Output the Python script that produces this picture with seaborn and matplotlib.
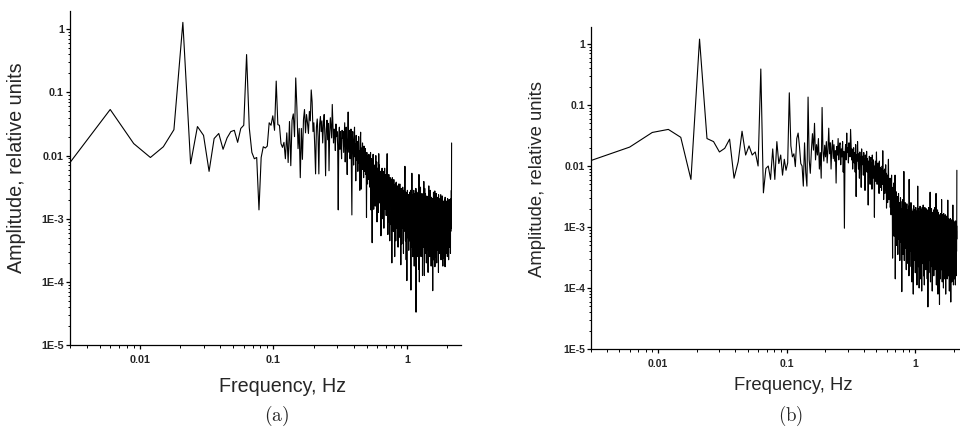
import numpy as np
import pandas as pd
import matplotlib
matplotlib.use("Agg")
import matplotlib.pyplot as plt
import seaborn as sns
from matplotlib.ticker import LogLocator, NullFormatter

# ---------------- data (log10 of amplitude, one value per FFT bin) ----------------
FREQ_STEP_HZ = 0.003

amp_a_log10 = [
    -2.11, -1.27, -1.81, -2.03, -1.86, -1.59, 0.11, -2.13, -1.54, -1.68,
    -2.25, -1.73, -1.65, -1.90, -1.72, -1.62, -1.60, -1.79, -1.57, -1.52,
    -0.40, -1.56, -1.95, -2.05, -2.03, -2.86, -2.03, -1.86, -1.88, -1.85,
    -1.48, -1.52, -1.37, -1.60, -0.82, -1.51, -1.52, -1.81, -1.87, -1.79,
    -2.05, -1.64, -2.11, -1.46, -2.16, -1.44, -1.34, -1.70, -0.77, -1.24,
    -1.89, -1.57, -2.35, -1.57, -2.06, -1.43, -1.27, -1.64, -1.35, -1.48,
    -1.65, -1.30, -1.45, -0.96, -1.15, -1.62, -1.48, -1.85, -2.29, -1.55,
    -1.42, -1.70, -2.29, -1.50, -1.38, -1.62, -1.45, -1.80, -1.52, -1.35,
    -1.68, -2.32, -1.58, -1.44, -1.75, -1.49, -2.24, -1.62, -1.40, -1.55,
    -1.72, -1.19, -1.48, -1.80, -1.58, -1.66, -1.92, -1.50, -1.70, -1.62,
    -1.85, -2.86, -1.68, -1.55, -1.90, -1.62, -1.78, -2.05, -1.60, -1.72,
    -1.62, -1.95, -1.70, -1.48, -2.10, -1.78, -1.55, -1.88, -2.30, -1.66,
    -1.31, -1.72, -1.95, -1.60, -2.05, -1.84, -1.58, -2.20, -2.94, -1.70,
    -1.62, -1.90, -2.15, -1.75, -1.55, -2.02, -1.82, -2.40, -1.68, -1.96,
    -2.08, -1.78, -2.25, -1.85, -1.70, -2.12, -1.92, -2.55, -1.80, -1.63,
    -2.10, -2.53, -1.88, -2.05, -1.80, -2.22, -1.95, -2.35, -1.85, -2.15,
    -2.25, -2.02, -1.89, -2.30, -2.10, -2.98, -1.95, -2.18, -2.45, -2.00,
    -2.12, -2.38, -1.98, -2.25, -2.05, -2.50, -2.15, -1.95, -2.86, -2.20,
    -2.05, -2.40, -3.38, -2.10, -2.60, -1.98, -2.35, -2.85, -2.15, -2.50,
    -2.55, -2.15, -2.80, -2.25, -2.00, -2.65, -2.35, -2.10, -3.05, -2.40,
    -2.20, -2.60, -2.35, -2.90, -1.97, -2.50, -2.15, -2.75, -2.40, -2.25,
    -2.65, -2.25, -3.27, -2.35, -2.55, -2.90, -2.20, -2.45, -3.00, -2.30,
    -2.25, -2.75, -2.40, -3.15, -2.30, -2.60, -2.20, -2.85, -2.50, -2.35,
    -2.70, -2.30, -2.95, -2.45, -2.60, -2.25, -1.97, -2.80, -2.40, -3.25,
    -2.35, -2.80, -2.50, -2.30, -3.05, -2.65, -2.40, -3.35, -2.55, -2.35,
    -2.80, -2.45, -2.70, -2.38, -3.10, -2.55, -3.70, -2.65, -2.35, -2.95,
    -2.45, -2.90, -2.50, -3.20, -2.60, -2.38, -2.95, -2.55, -2.80, -3.60,
    -2.55, -3.00, -2.45, -2.75, -3.35, -2.60, -2.42, -3.10, -2.58, -2.88,
    -3.15, -2.55, -2.85, -2.48, -2.72, -3.45, -2.60, -2.95, -2.45, -2.80,
    -2.60, -3.05, -2.55, -2.85, -2.45, -3.30, -2.70, -3.00, -2.62, -3.73,
    -2.65, -3.10, -2.52, -2.90, -3.40, -2.70, -2.55, -3.15, -2.78, -2.50,
    -3.00, -2.62, -2.95, -3.55, -2.72, -2.55, -3.20, -2.80, -2.60, -3.05,
    -2.70, -2.17, -3.10, -2.80, -3.35, -2.65, -2.98, -2.58, -3.65, -2.85,
    -2.72, -3.10, -3.98, -2.68, -2.95, -2.55, -3.30, -2.80, -3.05, -2.62,
    -3.20, -2.70, -2.95, -3.50, -2.62, -3.05, -2.78, -3.35, -2.58, -2.92,
    -2.80, -3.20, -2.65, -3.00, -2.55, -3.40, -4.13, -2.72, -3.15, -2.60,
    -2.90, -3.25, -2.28, -2.95, -3.45, -2.72, -3.05, -2.62, -3.60, -2.82,
    -3.10, -2.68, -3.30, -2.90, -2.55, -3.15, -2.78, -3.75, -2.70, -3.00,
    -2.75, -3.25, -2.60, -3.05, -2.82, -3.50, -2.68, -3.12, -2.52, -4.48,
    -2.95, -2.62, -3.30, -2.80, -3.10, -2.58, -3.60, -2.88, -2.70, -3.20,
    -2.80, -3.15, -2.65, -3.40, -2.90, -2.60, -3.05, -3.80, -2.75, -2.30,
    -3.00, -2.68, -4.00, -2.85, -3.25, -2.70, -3.05, -2.55, -3.45, -2.88,
    -2.50, -3.30, -2.92, -2.75, -3.60, -2.62, -3.10, -2.82, -3.30, -2.70,
    -3.00, -2.60, -3.35, -2.88, -2.72, -3.90, -2.78, -3.15, -2.66, -3.05,
    -2.82, -3.20, -2.70, -3.05, -3.45, -2.41, -2.95, -2.65, -3.25, -3.90,
    -2.75, -3.10, -2.52, -3.35, -2.90, -2.70, -3.55, -2.95, -2.60, -3.15,
    -2.85, -3.40, -2.68, -3.00, -2.78, -3.70, -2.72, -3.20, -2.92, -2.64,
    -3.15, -2.80, -3.00, -3.50, -2.66, -3.08, -2.75, -3.30, -2.88, -3.85,
    -2.78, -3.05, -2.70, -3.25, -2.90, -2.48, -3.15, -2.72, -3.50, -2.95,
    -2.68, -3.20, -2.85, -3.05, -3.60, -2.74, -2.98, -2.55, -3.35, -2.90,
    -3.10, -2.76, -3.45, -2.92, -2.70, -3.75, -2.85, -3.08, -2.66, -3.20,
    -2.88, -3.30, -2.72, -3.10, -2.82, -3.55, -2.68, -3.15, -2.95, -4.14,
    -2.78, -3.20, -2.92, -2.70, -3.40, -2.98, -2.58, -3.65, -2.88, -3.10,
    -2.95, -2.72, -3.25, -2.84, -3.50, -2.78, -3.05, -2.70, -2.56, -3.76,
    -2.90, -3.15, -2.75, -3.35, -2.86, -3.60, -2.70, -3.10, -2.82, -3.22,
    -2.98, -2.60, -3.40, -2.88, -3.15, -2.74, -3.70, -2.84, -3.05, -2.72,
    -3.25, -2.80, -3.00, -3.50, -2.70, -3.15, -2.88, -2.66, -3.45, -2.95,
    -2.76, -3.20, -2.90, -3.85, -2.62, -3.08, -2.82, -3.35, -2.68, -3.00,
    -3.12, -2.80, -3.40, -2.74, -3.02, -3.55, -2.70, -3.00, -2.86, -3.25,
    -2.90, -2.72, -3.15, -3.45, -2.78, -3.05, -2.62, -3.35, -2.88, -3.65,
    -2.80, -3.20, -2.76, -3.08, -3.40, -2.70, -2.95, -3.25, -2.74, -3.00,
    -3.30, -2.82, -3.05, -2.64, -3.50, -2.90, -3.15, -2.76, -3.75, -2.92,
    -2.78, -3.10, -3.62, -2.84, -3.30, -2.72, -3.05, -2.88, -3.45, -2.74,
    -3.00, -3.25, -2.80, -2.95, -3.55, -2.76, -3.15, -2.70, -3.00, -3.35,
    -2.86, -3.12, -3.76, -2.66, -3.05, -3.40, -2.74, -3.20, -2.90, -2.78,
    -3.25, -2.84, -3.05, -3.55, -2.80, -3.10, -2.72, -3.35, -2.88, -3.46,
    -2.82, -3.15, -2.90, -2.76, -3.45, -2.96, -3.25, -2.78, -3.60, -2.86,
    -3.05, -2.68, -3.30, -2.92, -2.74, -3.20, -2.88, -3.50, -2.82, -3.02,
    -3.30, -2.86, -3.00, -3.65, -2.78, -3.15, -2.90, -3.25, -2.70, -3.10,
    -2.88, -3.40, -2.70, -3.05, -3.25, -2.74, -3.45, -2.92, -2.84, -3.10,
    -2.86, -3.30, -2.78, -3.10, -2.90, -3.55, -2.80, -3.00, -2.70, -3.20,
    -2.85, -3.15, -2.74, -3.00, -2.68, -2.95, -2.55, -2.75, -2.20, -1.80,
]

amp_b_log10 = [
    -1.91, -1.69, -1.45, -1.40, -1.53, -2.22, 0.08, -1.55, -1.60, -1.77,
    -1.71, -1.56, -2.20, -1.93, -1.43, -1.82, -1.67, -1.82, -1.77, -2.00,
    -0.41, -2.44, -2.04, -2.00, -2.22, -1.72, -2.22, -1.60, -1.96, -1.82,
    -2.15, -1.89, -2.07, -1.95, -0.80, -1.67, -1.85, -1.80, -2.01, -1.55,
    -1.46, -1.68, -1.96, -2.00, -2.33, -1.62, -2.11, -2.33, -0.87, -1.90,
    -2.12, -1.75, -1.47, -1.74, -1.30, -1.90, -1.65, -1.82, -1.55, -2.05,
    -1.78, -2.20, -1.04, -1.75, -1.92, -1.66, -1.85, -1.60, -1.95, -1.72,
    -1.38, -1.80, -1.62, -2.05, -1.70, -1.58, -1.88, -1.65, -1.92, -1.75,
    -2.28, -1.68, -1.82, -1.55, -1.90, -1.66, -1.62, -1.98, -1.72, -1.85,
    -1.60, -2.10, -1.76, -3.02, -1.82, -1.65, -1.90, -1.46, -1.78, -1.70,
    -1.95, -1.62, -1.75, -1.85, -1.40, -1.68, -1.90, -1.72, -2.05, -1.80,
    -1.70, -1.95, -1.78, -2.10, -1.65, -2.50, -1.82, -1.92, -1.60, -1.88,
    -2.05, -1.80, -2.20, -1.77, -1.95, -1.85, -2.35, -1.72, -1.98, -1.84,
    -1.90, -2.15, -1.78, -2.02, -1.88, -2.40, -1.82, -2.08, -1.95, -1.76,
    -2.10, -1.88, -2.05, -2.64, -1.92, -2.18, -1.84, -2.00, -2.30, -1.90,
    -1.86, -2.12, -1.95, -2.38, -1.82, -2.05, -2.20, -1.90, -2.02, -2.15,
    -2.84, -2.00, -2.15, -1.92, -2.25, -2.08, -1.77, -2.12, -2.30, -1.98,
    -2.18, -1.95, -2.28, -2.05, -2.45, -1.92, -2.15, -2.02, -2.35, -2.10,
    -2.25, -2.05, -2.40, -2.12, -2.00, -2.30, -1.75, -2.20, -2.08, -2.55,
    -2.15, -2.32, -2.05, -2.45, -2.18, -2.28, -1.98, -2.40, -2.12, -2.69,
    -2.22, -2.45, -2.15, -2.60, -2.30, -2.12, -1.89, -2.40, -2.55, -2.25,
    -2.35, -2.55, -2.20, -2.68, -2.42, -2.25, -2.80, -2.38, -2.15, -2.50,
    -2.40, -2.80, -3.51, -2.35, -2.70, -2.95, -2.28, -2.60, -3.15, -2.45,
    -2.78, -2.48, -2.15, -3.85, -2.62, -3.00, -2.42, -2.75, -3.30, -2.55,
    -2.65, -3.05, -2.50, -2.85, -3.45, -2.60, -2.92, -2.45, -3.20, -2.75,
    -3.05, -2.60, -2.85, -3.55, -2.70, -2.98, -2.52, -3.25, -2.80, -3.10,
    -2.70, -3.10, -4.06, -2.82, -2.58, -3.30, -2.90, -2.55, -3.45, -2.95,
    -3.15, -2.75, -2.09, -3.00, -3.55, -2.68, -2.92, -3.30, -2.60, -3.05,
    -2.85, -3.35, -2.70, -3.05, -3.70, -2.78, -3.00, -2.62, -3.40, -2.92,
    -3.20, -2.72, -3.05, -3.60, -2.80, -3.25, -2.66, -2.98, -3.80, -2.22,
    -2.90, -3.30, -2.75, -3.65, -3.00, -2.68, -3.40, -2.85, -3.15, -2.60,
    -3.30, -2.80, -3.05, -2.70, -3.90, -2.92, -3.20, -2.74, -3.50, -3.00,
    -2.78, -3.25, -4.10, -2.88, -3.10, -2.65, -3.55, -2.95, -2.72, -3.35,
    -2.95, -3.45, -2.76, -3.10, -3.75, -2.84, -3.25, -2.68, -3.05, -3.60,
    -2.88, -3.30, -2.74, -3.08, -3.95, -2.90, -3.35, -2.80, -3.15, -2.33,
    -3.40, -2.82, -3.10, -2.70, -3.65, -2.96, -3.25, -2.78, -4.00, -3.02,
    -2.76, -3.25, -2.92, -3.55, -2.66, -3.10, -2.86, -3.85, -2.98, -3.30,
    -2.80, -3.45, -2.98, -2.72, -3.20, -4.05, -2.88, -3.10, -2.68, -3.40,
    -3.05, -2.78, -3.60, -2.92, -3.25, -2.64, -3.45, -2.95, -3.80, -2.84,
    -3.30, -2.86, -3.08, -3.95, -2.74, -3.35, -2.94, -2.68, -3.55, -3.02,
    -2.84, -3.40, -2.98, -3.70, -2.78, -3.15, -2.70, -3.50, -2.92, -3.25,
    -2.90, -3.35, -2.76, -3.10, -3.85, -2.86, -3.40, -2.96, -2.72, -4.31,
    -3.15, -2.80, -3.50, -2.95, -3.25, -2.68, -3.75, -2.90, -3.35, -2.82,
    -3.05, -3.55, -2.88, -3.30, -2.74, -3.10, -2.43, -3.40, -2.92, -3.90,
    -2.85, -3.25, -2.96, -3.65, -2.78, -3.35, -2.94, -2.70, -3.55, -3.05,
    -3.30, -2.84, -3.10, -4.05, -2.90, -3.25, -2.76, -3.45, -2.96, -3.12,
    -2.80, -3.40, -2.95, -3.60, -2.72, -3.15, -3.80, -2.88, -3.30, -2.92,
    -3.10, -2.78, -3.50, -2.98, -3.25, -2.68, -3.70, -2.94, -3.35, -2.86,
    -3.20, -2.90, -3.60, -2.82, -3.05, -2.45, -3.40, -2.96, -3.95, -2.88,
    -3.05, -3.50, -2.78, -3.25, -2.92, -3.75, -2.84, -3.15, -2.72, -3.40,
    -2.96, -3.25, -4.10, -2.88, -3.10, -2.76, -3.50, -2.94, -3.20, -2.82,
    -3.35, -2.88, -3.10, -3.65, -2.80, -3.25, -4.27, -2.96, -3.45, -2.86,
    -3.10, -3.60, -2.84, -3.30, -2.94, -3.85, -2.78, -3.20, -2.98, -3.45,
    -2.92, -3.30, -3.00, -3.70, -2.82, -3.40, -2.55, -3.15, -2.96, -3.55,
    -2.86, -3.35, -3.90, -2.92, -3.15, -2.80, -3.50, -3.00, -2.88, -3.65,
    -3.20, -2.84, -3.45, -3.05, -4.00, -2.90, -3.30, -2.78, -3.60, -2.98,
    -3.10, -3.65, -2.88, -3.35, -2.82, -3.20, -3.85, -2.94, -3.45, -2.86,
    -3.25, -2.92, -3.60, -3.05, -2.80, -3.45, -3.00, -4.10, -2.90, -3.30,
    -2.88, -3.40, -3.08, -3.75, -2.84, -3.30, -2.96, -3.55, -2.82, -3.15,
    -3.45, -2.96, -3.20, -3.85, -2.88, -3.35, -3.02, -3.65, -2.92, -2.56,
    -3.20, -3.60, -2.90, -3.30, -3.04, -3.80, -2.86, -3.40, -3.00, -3.15,
    -2.94, -3.45, -3.08, -3.70, -2.88, -3.25, -4.05, -3.02, -3.35, -2.90,
    -3.35, -2.98, -3.60, -2.92, -3.20, -3.80, -2.86, -3.45, -3.06, -3.25,
    -2.96, -3.50, -4.23, -3.04, -3.30, -2.88, -3.70, -3.08, -3.40, -2.94,
    -3.20, -3.60, -2.90, -3.35, -3.90, -3.00, -3.50, -2.92, -3.15, -3.75,
    -3.02, -3.40, -2.94, -3.65, -3.08, -3.30, -2.64, -3.55, -3.04, -3.85,
    -2.92, -3.45, -3.06, -3.95, -3.00, -3.30, -2.90, -3.60, -3.10, -3.35,
    -3.02, -3.65, -2.94, -3.30, -3.08, -3.85, -2.92, -3.45, -3.12, -3.00,
    -3.50, -3.06, -3.75, -2.96, -3.35, -3.10, -3.95, -3.00, -3.30, -2.90,
    -3.40, -3.04, -3.65, -2.94, -3.25, -3.80, -3.02, -3.45, -2.92, -3.55,
    -3.06, -3.40, -2.98, -3.20, -2.70, -2.07,
]

x_tick_values = [0.01, 0.1, 1]
x_tick_labels = ["0.01", "0.1", "1"]
y_tick_values = [1e-5, 1e-4, 1e-3, 1e-2, 1e-1, 1]
y_tick_labels = ["1E-5", "1E-4", "1E-3", "0.01", "0.1", "1"]
x_label = "Frequency, Hz"
y_label = "Amplitude, relative units"
captions = ["(a)", "(b)"]

# ---------------- style ----------------
sns.set_theme(style="ticks")
plt.rcParams["font.family"] = ["Liberation Sans", "DejaVu Sans"]
plt.rcParams["mathtext.fontset"] = "cm"

W, H = 960, 428
fig = plt.figure(figsize=(W / 100, H / 100), dpi=100)
fig.patch.set_facecolor("white")

panels = [
    dict(amp=amp_a_log10, box=(70, 11, 461, 345), ytop=1.95, fs=14.2, ts=7.8, cs=14.0,
         ylab=(17, 168), xlab=(283, 386), cap=(277, 416)),
    dict(amp=amp_b_log10, box=(591, 27, 967, 349), ytop=1.9, fs=13.3, ts=7.5, cs=13.5,
         ylab=(538, 179), xlab=(793, 386), cap=(791, 416)),
]

for p, cap in zip(panels, captions):
    x0, y0, x1, y1 = p["box"]
    ax = fig.add_axes([x0 / W, 1 - y1 / H, (x1 - x0) / W, (y1 - y0) / H])
    ax.set_facecolor("white")
    ax.set(xscale="log", yscale="log")
    amp = 10.0 ** np.asarray(p["amp"])
    freq = FREQ_STEP_HZ * np.arange(1, len(amp) + 1)
    df = pd.DataFrame({"freq": freq, "amp": amp})
    sns.lineplot(data=df, x="freq", y="amp", ax=ax, color="black",
                 linewidth=0.8, estimator=None, sort=False, legend=False)
    ax.set_xlim(0.003, 2.54)
    ax.set_ylim(1e-5, p["ytop"])
    ax.set_xlabel("")
    ax.set_ylabel("")
    ax.set_xticks(x_tick_values, labels=x_tick_labels, fontsize=p["ts"], fontweight="bold")
    ax.set_yticks(y_tick_values, labels=y_tick_labels, fontsize=p["ts"], fontweight="bold")
    ax.xaxis.set_minor_locator(LogLocator(base=10, subs=np.arange(2, 10), numticks=30))
    ax.yaxis.set_minor_locator(LogLocator(base=10, subs=np.arange(2, 10), numticks=30))
    ax.xaxis.set_minor_formatter(NullFormatter())
    ax.yaxis.set_minor_formatter(NullFormatter())
    ax.tick_params(which="major", direction="out", length=2.9, width=0.9, color="black")
    ax.tick_params(which="minor", direction="out", length=1.8, width=0.7, color="black")
    ax.tick_params(axis="x", which="major", pad=4.0)
    ax.tick_params(axis="y", which="major", pad=1.5)
    sns.despine(ax=ax)
    for s in ("left", "bottom"):
        ax.spines[s].set_linewidth(0.9)
        ax.spines[s].set_color("black")
    ax.grid(False)

    fig.text(p["ylab"][0] / W, 1 - p["ylab"][1] / H, y_label, rotation=90,
             ha="center", va="center", fontsize=p["fs"])
    fig.text(p["xlab"][0] / W, 1 - p["xlab"][1] / H, x_label,
             ha="center", va="center", fontsize=p["fs"])
    fig.text(p["cap"][0] / W, 1 - p["cap"][1] / H, r"$\mathrm{" + cap + "}$",
             ha="center", va="center", fontsize=p["cs"])

fig.savefig("out.png", dpi=100, facecolor="white")
